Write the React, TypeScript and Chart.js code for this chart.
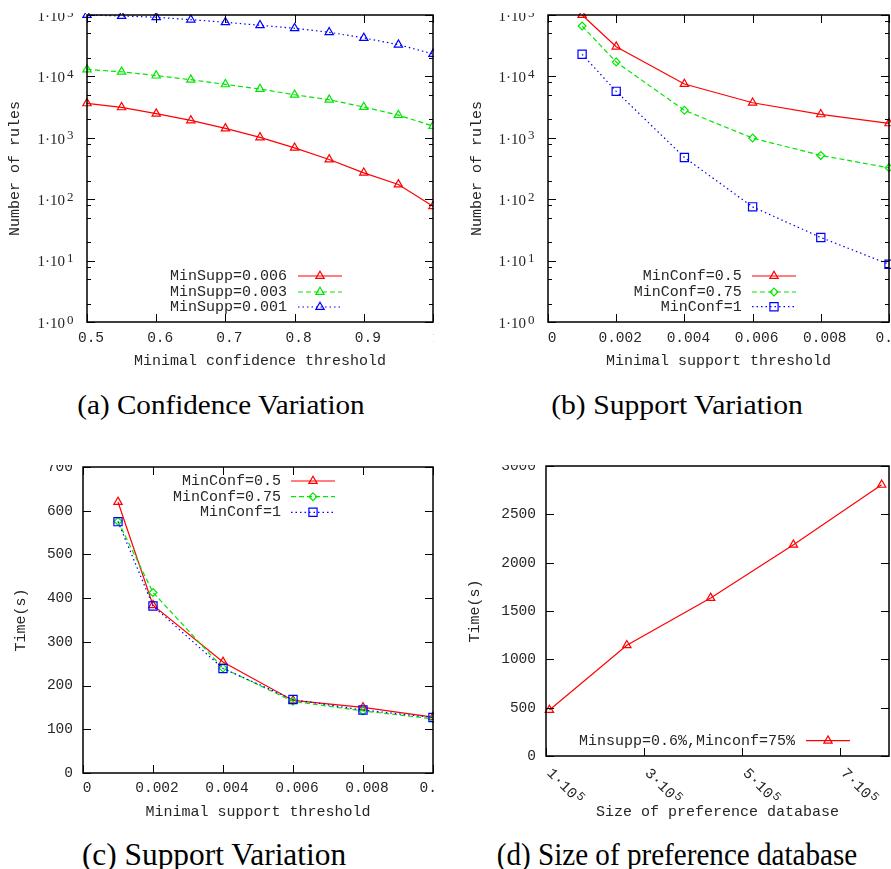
import React, { useEffect, useRef } from "react";
import { Chart, registerables } from "chart.js";

Chart.register(...registerables);

// ---------------- Data ----------------
// (a) Confidence variation: number of rules vs minimal confidence
const confThresholds = [0.5, 0.55, 0.6, 0.65, 0.7, 0.75, 0.8, 0.85, 0.9, 0.95, 1.0];
const rulesMinSupp006 = [3640, 3130, 2470, 1920, 1420, 1016, 687, 444, 269, 174, 77];
const rulesMinSupp003 = [13000, 11900, 10300, 8830, 7420, 6220, 5020, 4170, 3170, 2345, 1553];
const rulesMinSupp001 = [100000, 96500, 91900, 84000, 76200, 68000, 60800, 52300, 42300, 32900, 23200];

// (b) Support variation: number of rules vs minimal support
const suppThresholds = [0.001, 0.002, 0.004, 0.006, 0.008, 0.01];
const rulesMinConf05 = [100000, 30500, 7510, 3720, 2410, 1720];
const rulesMinConf075 = [66200, 17100, 2800, 989, 517, 324];
const rulesMinConf1 = [22900, 5710, 479, 75, 23.8, 8.7];

// (c) Support variation: time vs minimal support
const timeMinConf05 = [620, 384, 254, 166, 150, 128];
const timeMinConf075 = [576, 413, 240, 164, 142, 124];
const timeMinConf1 = [575, 382, 239, 168, 144, 127];

// (d) Size of preference database: time vs size
const dbSizes = [107000, 265000, 436000, 605000, 785000];
const timeDbSize = [476, 1145, 1635, 2185, 2805];

// ---------------- Ticks / labels ----------------
const confTicks = [0.5, 0.6, 0.7, 0.8, 0.9, 1.0];
const suppTicks = [0, 0.002, 0.004, 0.006, 0.008, 0.01];
const logExponents = [0, 1, 2, 3, 4, 5];
const logMinorMultipliers = [2, 5, 8];
const timeTicksC = [0, 100, 200, 300, 400, 500, 600, 700];
const timeTicksD = [0, 500, 1000, 1500, 2000, 2500, 3000];
const dbTickMantissas = [1, 3, 5, 7];
const dbTickExponent = 5;

const legendA = ["MinSupp=0.006", "MinSupp=0.003", "MinSupp=0.001"];
const legendB = ["MinConf=0.5", "MinConf=0.75", "MinConf=1"];
const legendD = ["Minsupp=0.6%,Minconf=75%"];
const captions = [
  "(a) Confidence Variation",
  "(b) Support Variation",
  "(c) Support Variation",
  "(d) Size of preference database",
];
const axisTitles = {
  conf: "Minimal confidence threshold",
  supp: "Minimal support threshold",
  size: "Size of preference database",
  rules: "Number of rules",
  time: "Time(s)",
};

// ---------------- Styles ----------------
const TEXT = "#262626";
const MONO = '"Liberation Mono", "DejaVu Sans Mono", monospace';
const SERIF = '"Liberation Serif", "DejaVu Serif", serif';
const TICK_SIZE = 14.5;
const TITLE_SIZE = 15;
const MAJOR = 8;
const MINOR = 4;

type Style = { color: string; dash: number[]; point: string; radius: number; order: number };
const redTri: Style = { color: "#ff0000", dash: [], point: "triangle", radius: 4.8, order: 2 };
const greenTri: Style = { color: "#00e600", dash: [5, 3], point: "triangle", radius: 4.8, order: 1 };
const blueTri: Style = { color: "#0000ff", dash: [1.5, 3], point: "triangle", radius: 4.8, order: 0 };
const greenDia: Style = { color: "#00e600", dash: [5, 3], point: "rectRot", radius: 3.9, order: 1 };
const blueSq: Style = { color: "#0000ff", dash: [1.5, 3], point: "rect", radius: 5.8, order: 0 };

function series(label: string, xs: number[], ys: number[], s: Style) {
  return {
    label,
    data: xs.map((x, i) => ({ x, y: ys[i] })),
    borderColor: s.color,
    backgroundColor: "rgba(0,0,0,0)",
    borderWidth: 1.2,
    borderDash: s.dash,
    pointStyle: s.point,
    pointRadius: s.radius,
    pointHoverRadius: s.radius,
    pointBorderWidth: 1.2,
    pointBorderColor: s.color,
    pointBackgroundColor: "rgba(0,0,0,0)",
    tension: 0,
    fill: false,
    clip: false,
    order: s.order,
  };
}

type Box = { x: number; y: number; w: number; h: number };
type Area = { l: number; t: number; r: number; b: number };
type PanelSpec = {
  box: Box;
  area: Area;
  xMin: number;
  xMax: number;
  xTicks: number[];
  xFmt: (v: number) => string;
  xLabelY: number;
  rotatedX: boolean;
  topTicks: boolean;
  xTitle: string;
  xTitleY: number;
  yLog: boolean;
  yMin: number;
  yMax: number;
  yTicks: number[];
  yMinor: number[];
  yTitle: string;
  yTitleX: number;
  datasets: any[];
  legend: { textRight: number; sampleL: number; sampleR: number; ys: number[] };
};

const EXTRA_TOP = 20;
const EXTRA_RIGHT = 40;

function drawMarker(ctx: CanvasRenderingContext2D, style: string, x: number, y: number, r: number) {
  ctx.beginPath();
  if (style === "triangle") {
    ctx.moveTo(x, y - r);
    ctx.lineTo(x + r * Math.sin((2 * Math.PI) / 3), y - r * Math.cos((2 * Math.PI) / 3));
    ctx.lineTo(x - r * Math.sin((2 * Math.PI) / 3), y - r * Math.cos((2 * Math.PI) / 3));
    ctx.closePath();
  } else if (style === "rectRot") {
    ctx.moveTo(x, y - r);
    ctx.lineTo(x + r, y);
    ctx.lineTo(x, y + r);
    ctx.lineTo(x - r, y);
    ctx.closePath();
  } else {
    const s = r * Math.SQRT1_2;
    ctx.rect(x - s, y - s, 2 * s, 2 * s);
  }
  ctx.stroke();
}

function decorPlugin(spec: PanelSpec) {
  const ox = spec.box.x;
  const oy = spec.box.y - EXTRA_TOP;
  return {
    id: "gnuplotDecor",
    afterDraw(chart: any) {
      const ctx: CanvasRenderingContext2D = chart.ctx;
      const { left, top, right, bottom } = chart.chartArea;
      const xs = chart.scales.x;
      const ys = chart.scales.y;
      const seg = (x1: number, y1: number, x2: number, y2: number) => {
        ctx.beginPath();
        ctx.moveTo(x1, y1);
        ctx.lineTo(x2, y2);
        ctx.stroke();
      };
      ctx.save();
      ctx.strokeStyle = "#000";
      ctx.lineWidth = 1;
      ctx.setLineDash([]);
      // tick marks (inside)
      for (const v of spec.xTicks) {
        const px = Math.round(xs.getPixelForValue(v)) + 0.5;
        seg(px, bottom, px, bottom - MAJOR);
        if (spec.topTicks) seg(px, top, px, top + MAJOR);
      }
      for (const v of spec.yTicks) {
        const py = Math.round(ys.getPixelForValue(v)) + 0.5;
        seg(left, py, left + MAJOR, py);
        seg(right, py, right - MAJOR, py);
      }
      for (const v of spec.yMinor) {
        const py = Math.round(ys.getPixelForValue(v)) + 0.5;
        seg(left, py, left + MINOR, py);
        seg(right, py, right - MINOR, py);
      }
      // frame
      ctx.lineWidth = 1.5;
      ctx.strokeRect(left, top, right - left, bottom - top);

      // log y labels 1·10^k
      if (spec.yLog) {
        ctx.fillStyle = TEXT;
        for (const k of logExponents) {
          const py = ys.getPixelForValue(Math.pow(10, k));
          ctx.font = `15px ${SERIF}`;
          ctx.textAlign = "right";
          ctx.textBaseline = "alphabetic";
          ctx.fillText("1·10", left - 22, py + 5.8);
          ctx.font = `13px ${SERIF}`;
          ctx.textAlign = "left";
          ctx.fillText(String(k), left - 20, py + 1.5);
        }
      }

      // rotated x labels (m·10^5)
      if (spec.rotatedX) {
        ctx.fillStyle = TEXT;
        for (const m of dbTickMantissas) {
          const px = xs.getPixelForValue(m * Math.pow(10, dbTickExponent));
          ctx.save();
          ctx.translate(px + 3, bottom + 15);
          ctx.rotate(Math.PI / 4);
          ctx.font = `15px ${MONO}`;
          ctx.textAlign = "left";
          ctx.textBaseline = "middle";
          const base = `${m}·10`;
          ctx.fillText(base, 0, 0);
          const w = ctx.measureText(base).width;
          ctx.font = `12px ${MONO}`;
          ctx.fillText(String(dbTickExponent), w + 1, -4);
          ctx.restore();
        }
      }

      // gnuplot-style legend
      const L = spec.legend;
      chart.data.datasets.forEach((ds: any, i: number) => {
        const y = L.ys[i] - oy;
        ctx.font = `${TITLE_SIZE}px ${MONO}`;
        ctx.fillStyle = TEXT;
        ctx.textAlign = "right";
        ctx.textBaseline = "middle";
        ctx.fillText(ds.label, L.textRight - ox, y);
        ctx.strokeStyle = ds.borderColor;
        ctx.lineWidth = ds.borderWidth;
        ctx.setLineDash(ds.borderDash || []);
        seg(L.sampleL - ox, y, L.sampleR - ox, y);
        ctx.setLineDash([]);
        ctx.lineWidth = ds.pointBorderWidth;
        drawMarker(ctx, ds.pointStyle, (L.sampleL + L.sampleR) / 2 - ox, y, ds.pointRadius);
      });
      ctx.restore();
    },
  };
}

function buildConfig(spec: PanelSpec): any {
  const { box, area } = spec;
  const cw = box.w + EXTRA_RIGHT;
  const ch = box.h + EXTRA_TOP;
  const ox = box.x;
  const oy = box.y - EXTRA_TOP;
  const aL = area.l - ox;
  const aT = area.t - oy;
  const aR = area.r - ox;
  const aB = area.b - oy;
  const tickLH = TICK_SIZE * 1.2;
  const titleLH = TITLE_SIZE * 1.2;
  const zeroPad = (s: any) => {
    s.paddingLeft = 0;
    s.paddingRight = 0;
    s.paddingTop = 0;
    s.paddingBottom = 0;
  };
  return {
    type: "line",
    data: { datasets: spec.datasets },
    options: {
      responsive: false,
      animation: false,
      events: [],
      layout: { padding: { left: 0, top: aT, right: cw - aR, bottom: 0 } },
      plugins: { legend: { display: false }, tooltip: { enabled: false }, title: { display: false } },
      scales: {
        x: {
          type: "linear",
          position: "bottom",
          min: spec.xMin,
          max: spec.xMax,
          afterBuildTicks: (s: any) => {
            s.ticks = spec.xTicks.map((v) => ({ value: v }));
          },
          afterFit: (s: any) => {
            s.height = ch - aB;
            zeroPad(s);
          },
          grid: { display: false, drawTicks: false },
          border: { display: false },
          ticks: {
            display: !spec.rotatedX,
            autoSkip: false,
            maxRotation: 0,
            minRotation: 0,
            padding: spec.xLabelY - area.b - tickLH / 2,
            labelOffset: 4,
            color: TEXT,
            font: { family: MONO, size: TICK_SIZE, lineHeight: 1.2 },
            callback: (v: any) => spec.xFmt(Number(v)),
          },
          title: {
            display: true,
            text: spec.xTitle,
            color: TEXT,
            font: { family: MONO, size: TITLE_SIZE, lineHeight: 1.2 },
            padding: { top: 0, bottom: box.y + box.h - spec.xTitleY - titleLH / 2 },
          },
        },
        y: {
          type: spec.yLog ? "logarithmic" : "linear",
          position: "left",
          min: spec.yMin,
          max: spec.yMax,
          afterBuildTicks: (s: any) => {
            s.ticks = spec.yTicks.map((v) => ({ value: v }));
          },
          afterFit: (s: any) => {
            s.width = aL;
            zeroPad(s);
          },
          grid: { display: false, drawTicks: false },
          border: { display: false },
          ticks: {
            display: !spec.yLog,
            padding: 10,
            color: TEXT,
            font: { family: MONO, size: TICK_SIZE, lineHeight: 1.2 },
            callback: (v: any) => String(v),
          },
          title: {
            display: true,
            text: spec.yTitle,
            color: TEXT,
            font: { family: MONO, size: TITLE_SIZE, lineHeight: 1.2 },
            padding: { top: spec.yTitleX - box.x - titleLH / 2, bottom: 0 },
          },
        },
      },
    },
    plugins: [decorPlugin(spec)],
  };
}

function Panel({ spec }: { spec: PanelSpec }) {
  const ref = useRef<HTMLCanvasElement>(null);
  useEffect(() => {
    if (!ref.current) return;
    const chart = new Chart(ref.current, buildConfig(spec));
    return () => chart.destroy();
  }, []);
  const { box } = spec;
  const cw = box.w + EXTRA_RIGHT;
  const ch = box.h + EXTRA_TOP;
  return (
    <div style={{ position: "absolute", left: box.x, top: box.y, width: box.w, height: box.h, overflow: "hidden" }}>
      <canvas
        ref={ref}
        width={cw}
        height={ch}
        style={{ position: "absolute", left: 0, top: -EXTRA_TOP, width: cw, height: ch, display: "block" }}
      />
    </div>
  );
}

const logTicks = logExponents.map((k) => Math.pow(10, k));
const logMinor: number[] = [];
logExponents.slice(0, -1).forEach((k) => logMinorMultipliers.forEach((m) => logMinor.push(m * Math.pow(10, k))));
const fmtNum = (v: number) => String(Math.round(v * 1000) / 1000);

const panelA: PanelSpec = {
  box: { x: 0, y: 13, w: 434, h: 372 },
  area: { l: 87, t: 15, r: 433, b: 322 },
  xMin: 0.5,
  xMax: 1.0,
  xTicks: confTicks,
  xFmt: fmtNum,
  xLabelY: 337.7,
  rotatedX: false,
  topTicks: true,
  xTitle: axisTitles.conf,
  xTitleY: 361,
  yLog: true,
  yMin: 1,
  yMax: 100000,
  yTicks: logTicks,
  yMinor: logMinor,
  yTitle: axisTitles.rules,
  yTitleX: 15.3,
  datasets: [
    series(legendA[0], confThresholds, rulesMinSupp006, redTri),
    series(legendA[1], confThresholds, rulesMinSupp003, greenTri),
    series(legendA[2], confThresholds, rulesMinSupp001, blueTri),
  ],
  legend: { textRight: 287, sampleL: 298, sampleR: 342, ys: [276, 292, 307] },
};

const panelB: PanelSpec = {
  box: { x: 445, y: 13, w: 446, h: 372 },
  area: { l: 548, t: 15, r: 889, b: 322 },
  xMin: 0,
  xMax: 0.01,
  xTicks: suppTicks,
  xFmt: fmtNum,
  xLabelY: 338.3,
  rotatedX: false,
  topTicks: true,
  xTitle: axisTitles.supp,
  xTitleY: 361,
  yLog: true,
  yMin: 1,
  yMax: 100000,
  yTicks: logTicks,
  yMinor: logMinor,
  yTitle: axisTitles.rules,
  yTitleX: 477.2,
  datasets: [
    series(legendB[0], suppThresholds, rulesMinConf05, redTri),
    series(legendB[1], suppThresholds, rulesMinConf075, greenDia),
    series(legendB[2], suppThresholds, rulesMinConf1, blueSq),
  ],
  legend: { textRight: 741.7, sampleL: 752, sampleR: 796, ys: [276, 292, 306.7] },
};

const panelC: PanelSpec = {
  box: { x: 0, y: 465, w: 434, h: 360 },
  area: { l: 83, t: 467, r: 433, b: 773 },
  xMin: 0,
  xMax: 0.01,
  xTicks: suppTicks,
  xFmt: fmtNum,
  xLabelY: 788.3,
  rotatedX: false,
  topTicks: true,
  xTitle: axisTitles.supp,
  xTitleY: 811.7,
  yLog: false,
  yMin: 0,
  yMax: 700,
  yTicks: timeTicksC,
  yMinor: [],
  yTitle: axisTitles.time,
  yTitleX: 21.3,
  datasets: [
    series(legendB[0], suppThresholds, timeMinConf05, redTri),
    series(legendB[1], suppThresholds, timeMinConf075, greenDia),
    series(legendB[2], suppThresholds, timeMinConf1, blueSq),
  ],
  legend: { textRight: 281, sampleL: 291, sampleR: 335, ys: [481, 496.7, 512.3] },
};

const panelD: PanelSpec = {
  box: { x: 445, y: 465, w: 446, h: 360 },
  area: { l: 546, t: 466, r: 889, b: 756 },
  xMin: 100000,
  xMax: 800000,
  xTicks: dbTickMantissas.map((m) => m * Math.pow(10, dbTickExponent)),
  xFmt: fmtNum,
  xLabelY: 775,
  rotatedX: true,
  topTicks: false,
  xTitle: axisTitles.size,
  xTitleY: 811.7,
  yLog: false,
  yMin: 0,
  yMax: 3000,
  yTicks: timeTicksD,
  yMinor: [],
  yTitle: axisTitles.time,
  yTitleX: 475.5,
  datasets: [series(legendD[0], dbSizes, timeDbSize, redTri)],
  legend: { textRight: 795, sampleL: 806, sampleR: 850, ys: [740.7] },
};

const captionPos = [
  { cx: 221, cy: 405, size: 28, sx: 1.04, sy: 1 },
  { cx: 677, cy: 405, size: 28, sx: 1.06, sy: 1 },
  { cx: 213.5, cy: 855, size: 28, sx: 1.12, sy: 1.12 },
  { cx: 677, cy: 855, size: 28, sx: 1.04, sy: 1.12 },
];

export default function App() {
  return (
    <div
      style={{
        position: "absolute",
        left: 0,
        top: 0,
        width: 891,
        height: 869,
        overflow: "hidden",
        background: "#fff",
      }}
    >
      <Panel spec={panelA} />
      <Panel spec={panelB} />
      <Panel spec={panelC} />
      <Panel spec={panelD} />
      {captions.map((c, i) => {
        const p = captionPos[i];
        return (
          <div
            key={i}
            style={{
              position: "absolute",
              left: p.cx - 220,
              width: 440,
              top: p.cy - 20,
              height: 40,
              lineHeight: "40px",
              textAlign: "center",
              fontFamily: SERIF,
              fontSize: p.size,
              color: "#000",
              whiteSpace: "nowrap",
              transform: `scale(${p.sx}, ${p.sy})`,
            }}
          >
            {c}
          </div>
        );
      })}
    </div>
  );
}
